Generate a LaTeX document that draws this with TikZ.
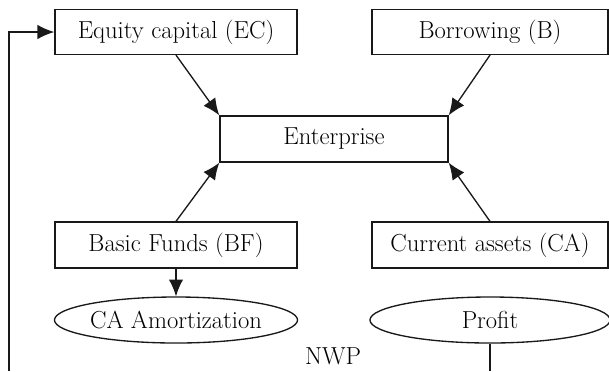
\documentclass[tikz,border=0pt]{standalone}
\usetikzlibrary{shapes.geometric,arrows.meta}
\begin{document}
\begin{tikzpicture}[x=0.025cm,y=-0.025cm,line width=0.95pt,->,>={Latex[length=4.2mm,width=3.6mm]},draw=black!90]
	\fontsize{17.5}{20}\selectfont
	\def \toprow{32}
	\def \midrow{139}
	\def \lowrow{245}
	\def \ovalrow{320}
	\def \floor{371}

	\tikzstyle{f-box}=[rectangle,draw,minimum height=1.12cm,inner sep=2pt]
	\tikzstyle{f-oval}=[ellipse,draw,minimum height=1.15cm,inner sep=0pt]
	\useasboundingbox (0,0) rectangle (609,\floor);

	\node[f-box,minimum width=6.05cm]	(ec)	at (176,\toprow)	{Equity capital (EC)};
	\node[f-box,minimum width=5.9cm]	(bor)	at (490,\toprow)	{Borrowing (B)};
	\node[f-box,minimum width=5.7cm,minimum height=1.15cm]	(ent)	at (334,\midrow)	{Enterprise};
	\node[f-box,minimum width=6.05cm,minimum height=1.15cm]	(bf)	at (176,\lowrow)	{Basic Funds (BF)};
	\node[f-box,minimum width=5.9cm,minimum height=1.15cm]	(ca)	at (490,\lowrow)	{Current assets (CA)};
	\node[f-oval,minimum width=6.05cm]	(amort)	at (176,\ovalrow)	{CA Amortization};
	\node[f-oval,minimum width=6.0cm]	(profit)	at (490,\ovalrow)	{Profit};
	\node	(nwp)	at (333,356)	{NWP};

	\coordinate (loop) at (9,\floor);
	\coordinate (drop) at (490,\floor);

	\draw (ec.south) -- (ent.north west);
	\draw (bor.south) -- (ent.north east);
	\draw (bf.north) -- (ent.south west);
	\draw (ca.north) -- (ent.south east);
	\draw (bf.south) -- (amort.north);
	\draw (loop) |- (ec.west);
	\draw[-] (profit.south) -- (drop);
\end{tikzpicture}
\end{document}
